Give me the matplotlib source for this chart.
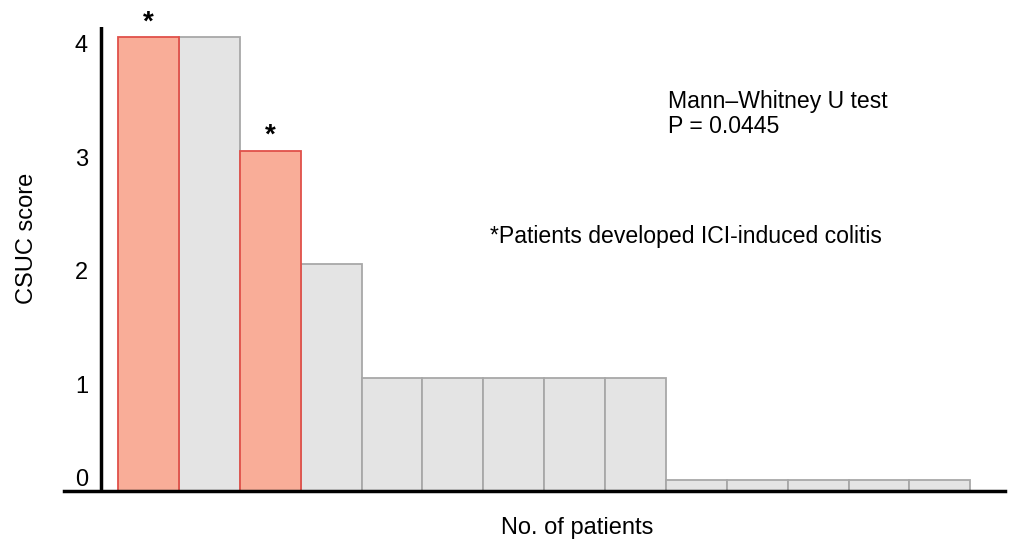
import matplotlib
matplotlib.use("Agg")
import matplotlib.pyplot as plt

plt.rcParams['font.family'] = ['Liberation Sans', 'DejaVu Sans']

scores = [4, 4, 3, 2, 1, 1, 1, 1, 1, 0, 0, 0, 0, 0]
colitis = [True, False, True, False, False, False, False, False, False, False, False, False, False, False]
ytick_values = [0, 1, 2, 3, 4]
ytick_labels = ["0", "1", "2", "3", "4"]

W, H = 1011, 542
fig = plt.figure(figsize=(W / 100, H / 100), dpi=100)
left, right, bottom, top = 64, 1005, 491, 27
ax = fig.add_axes([left / W, 1 - bottom / H, (right - left) / W, (bottom - top) / H])

zero_h = 0.1
x = list(range(len(scores)))
heights = [max(s, zero_h) for s in scores]
for xi, h, c in zip(x, heights, colitis):
    if c:
        ax.bar(xi, h, width=1.0, color="#f9ad98", edgecolor="#e0504a", linewidth=1.3, zorder=3)
        ax.text(xi, h + 0.13, "*", ha="center", va="center", fontsize=20,
                fontweight="bold", clip_on=False)
    else:
        ax.bar(xi, h, width=1.0, color="#e4e4e4", edgecolor="#a8a8a8", linewidth=1.3, zorder=2)

ax.set_xlim(-1.387, 14.07)
ax.set_ylim(0, 4.09)
for s in ["top", "right", "left"]:
    ax.spines[s].set_visible(False)
ax.spines["bottom"].set_linewidth(2.5)
ax.spines["bottom"].set_zorder(5)
ax.axvline(-0.784, color="black", linewidth=2.5, zorder=5)
ax.set_xticks([])
ax.set_yticks([])

# y tick labels (drawn slightly below the bar-top levels, as in the reference)
offsets = {0: 0.1}
for v, lab in zip(ytick_values, ytick_labels):
    yy = offsets.get(v, v - 0.08)
    ax.text(-0.993, yy, lab, ha="right", va="center", fontsize=17)

fig.text(27 / W, 1 - 238 / H, "CSUC score", rotation=90, ha="center", va="center", fontsize=17)
fig.text(577 / W, 1 - 528 / H, "No. of patients", ha="center", va="center", fontsize=17)

fig.text(668 / W, 1 - 101.5 / H, "Mann\u2013Whitney U test", ha="left", va="center", fontsize=16.6)
fig.text(668 / W, 1 - 126.5 / H, "P = 0.0445", ha="left", va="center", fontsize=16.6)
fig.text(490 / W, 1 - 237 / H, "*Patients developed ICI-induced colitis", ha="left", va="center", fontsize=16.6)

fig.savefig("out.png", dpi=100)
